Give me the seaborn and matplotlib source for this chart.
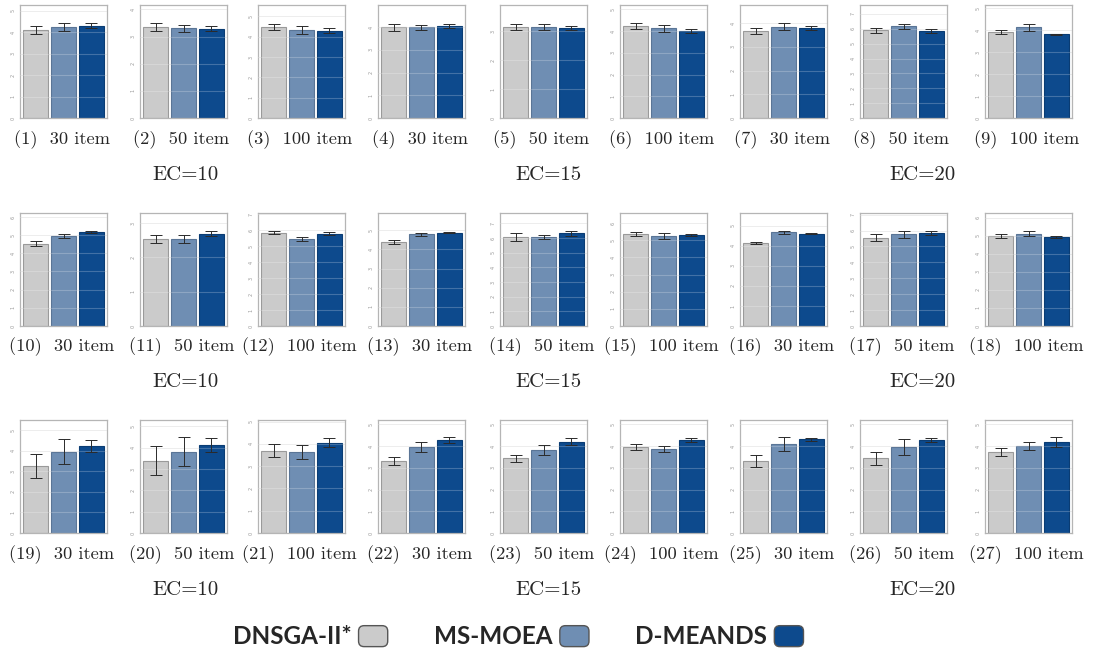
import matplotlib
matplotlib.use("Agg")
import numpy as np
import pandas as pd
import seaborn as sns
import matplotlib.pyplot as plt
from matplotlib.patches import Patch, FancyBboxPatch
from matplotlib.legend_handler import HandlerPatch

methods = ["DNSGA-II*", "MS-MOEA", "D-MEANDS"]
item_labels = ["30 item", "50 item", "100 item"] * 9
ec_labels = ["EC=10", "EC=15", "EC=20"]

dnsga = [4.08, 3.35, 4.48, 3.99, 3.15, 4.23, 3.69, 5.91, 3.91,
         4.54, 2.54, 5.86, 4.40, 6.07, 5.39, 4.13, 5.56, 4.98,
         3.25, 3.39, 3.70, 3.33, 3.43, 3.95, 3.33, 3.43, 3.74]
msmoea = [4.22, 3.30, 4.34, 3.99, 3.14, 4.12, 3.86, 6.18, 4.12,
          4.98, 2.54, 5.46, 4.79, 6.07, 5.25, 4.68, 5.75, 5.11,
          3.95, 3.82, 3.64, 3.95, 3.80, 3.85, 4.11, 3.95, 4.00]
dmeands = [4.29, 3.29, 4.30, 4.06, 3.10, 4.00, 3.79, 5.84, 3.80,
           5.17, 2.69, 5.80, 4.88, 6.32, 5.31, 4.61, 5.84, 4.94,
           4.22, 4.13, 4.06, 4.26, 4.21, 4.26, 4.32, 4.26, 4.21]
err_dnsga = [0.19, 0.14, 0.16, 0.15, 0.10, 0.12, 0.13, 0.16, 0.11,
             0.13, 0.11, 0.10, 0.10, 0.29, 0.12, 0.05, 0.21, 0.09,
             0.58, 0.69, 0.31, 0.18, 0.18, 0.14, 0.28, 0.32, 0.18]
err_msmoea = [0.19, 0.13, 0.20, 0.13, 0.09, 0.14, 0.14, 0.17, 0.17,
              0.11, 0.12, 0.15, 0.09, 0.14, 0.16, 0.07, 0.19, 0.12,
              0.62, 0.66, 0.32, 0.23, 0.23, 0.14, 0.32, 0.37, 0.18]
err_dmeands = [0.11, 0.10, 0.13, 0.10, 0.06, 0.08, 0.08, 0.12, 0.03,
               0.06, 0.08, 0.07, 0.05, 0.16, 0.07, 0.04, 0.13, 0.05,
               0.30, 0.32, 0.18, 0.14, 0.18, 0.09, 0.07, 0.09, 0.23]
y_max = [5.26, 4.16, 5.56, 4.98, 3.90, 5.20, 4.77, 7.60, 5.14,
         6.22, 3.29, 7.09, 5.90, 7.70, 6.59, 5.64, 7.10, 6.25,
         5.49, 5.30, 5.07, 5.20, 5.20, 5.20, 5.20, 5.20, 5.20]

colors = ["#CBCBCB", "#6F8EB3", "#0D4A8D"]
edges = ["#9A9A9A", "#5A7596", "#0A3C73"]

W, H = 1116, 655
fig = plt.figure(figsize=(W / 100, H / 100), dpi=100)
sns.set_style("white")

lefts = [20, 140, 258, 378, 500, 620, 740, 860, 985]
tops = [5, 213, 420]
aw, ah = 87, 113
cap_y = [140, 347, 555]
ec_y = [175, 382, 590]
ec_x = [186, 548, 923]
serif = ["cmr10", "DejaVu Serif"]

for r in range(3):
    for c in range(9):
        k = r * 9 + c
        l, t = lefts[c], tops[r]
        ax = fig.add_axes([l / W, 1 - (t + ah) / H, aw / W, ah / H])
        df = pd.DataFrame({"method": methods,
                           "value": [dnsga[k], msmoea[k], dmeands[k]]})
        sns.barplot(data=df, x="method", y="value", hue="method",
                    palette=colors, saturation=1, width=0.87, errorbar=None,
                    legend=False, ax=ax, zorder=2)
        for p, e in zip(ax.patches, edges):
            p.set_edgecolor(e)
            p.set_linewidth(0.8)
        ax.errorbar(range(3), df["value"],
                    yerr=[err_dnsga[k], err_msmoea[k], err_dmeands[k]],
                    fmt="none", ecolor="#2a2a2a", elinewidth=0.7,
                    capsize=4, capthick=0.7, zorder=4)
        ax.set_xlim(-0.56, 2.56)
        ax.set_ylim(0, y_max[k])
        ticks = np.arange(0, int(np.floor(y_max[k])) + 1)
        ax.set_yticks(ticks)
        ax.set_yticklabels([str(v) for v in ticks], fontsize=3.5,
                           rotation=90, color="#999999", va="center")
        ax.tick_params(axis="y", length=2, width=0.5, color="#aaaaaa", pad=1)
        ax.set_xticks([])
        ax.set_xlabel("")
        ax.set_ylabel("")
        ax.set_axisbelow(True)
        ax.grid(axis="y", color="#e4e4e4", linewidth=0.6)
        for tv in ticks[1:]:
            ax.axhline(tv, color="white", alpha=0.22, linewidth=0.8, zorder=3)
        for s in ax.spines.values():
            s.set_color("#b5b5b5")
            s.set_linewidth(0.9)
        fig.text((l + aw / 2 - 2) / W, 1 - cap_y[r] / H,
                 f"({k + 1})  {item_labels[k]}", ha="center", va="center",
                 fontsize=13.3, family=serif)
    for e in range(3):
        fig.text(ec_x[e] / W, 1 - ec_y[r] / H, ec_labels[e],
                 ha="center", va="center", fontsize=15, family=serif)


def rounded_box(legend, orig_handle, xdescent, ydescent, width, height, fontsize):
    return FancyBboxPatch((-xdescent, -ydescent), width, height,
                          boxstyle="round,pad=0,rounding_size=4")


handles = [Patch(facecolor=colors[i], edgecolor="#555555", linewidth=1.0)
           for i in range(3)]
fig.legend(handles, methods, loc="center", ncol=3, frameon=False,
           bbox_to_anchor=(518 / W, 1 - 637 / H), markerfirst=False,
           handlelength=1.2, handleheight=0.95, handletextpad=0.3,
           columnspacing=1.9,
           prop={"family": ["Lato", "DejaVu Sans"], "weight": "bold", "size": 17.5},
           handler_map={Patch: HandlerPatch(patch_func=rounded_box)})

fig.savefig("out.png", dpi=100)
